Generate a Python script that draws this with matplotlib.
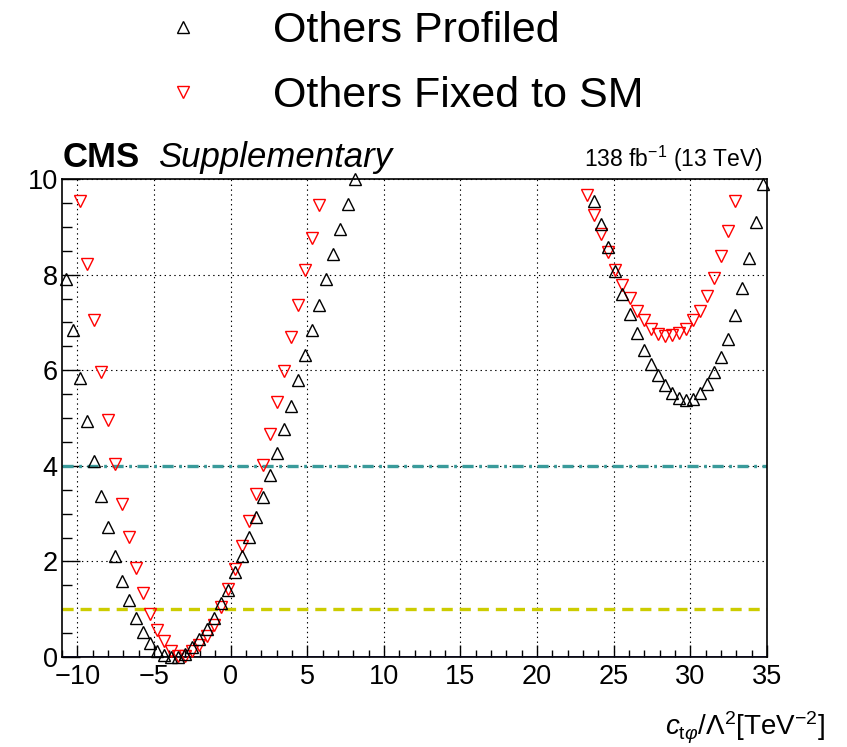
import matplotlib
matplotlib.use("Agg")
import matplotlib.pyplot as plt
from matplotlib.ticker import MultipleLocator

plt.rcParams["font.family"] = ["Liberation Sans", "DejaVu Sans"]
plt.rcParams["mathtext.fontset"] = "custom"
plt.rcParams["mathtext.rm"] = "Liberation Sans"
plt.rcParams["mathtext.it"] = "Liberation Sans:italic"
plt.rcParams["mathtext.bf"] = "Liberation Sans:bold"
plt.rcParams["lines.scale_dashes"] = False

# Likelihood scan in c_tphi: -2 Delta lnL, other Wilson coefficients profiled
profiled_x = [-10.77, -10.31, -9.85, -9.39, -8.93, -8.47, -8.01, -7.55, -7.09, -6.63,
              -6.17, -5.71, -5.25, -4.79, -4.33, -3.87, -3.41, -2.95, -2.49, -2.03,
              -1.57, -1.11, -0.65, -0.19, 0.27, 0.73, 1.19, 1.65, 2.11, 2.57,
              3.03, 3.49, 3.95, 4.41, 4.87, 5.33, 5.79, 6.25, 6.71, 7.17,
              7.63, 8.09,
              23.73, 24.19, 24.65, 25.11, 25.57, 26.03, 26.49, 26.95, 27.41, 27.87,
              28.33, 28.79, 29.25, 29.71, 30.17, 30.63, 31.09, 31.55, 32.01, 32.47,
              32.93, 33.39, 33.85, 34.31, 34.77]
profiled_y = [7.91, 6.84, 5.84, 4.93, 4.10, 3.37, 2.72, 2.11, 1.60, 1.19,
              0.81, 0.53, 0.29, 0.12, 0.04, 0.00, 0.01, 0.07, 0.20, 0.38,
              0.58, 0.82, 1.12, 1.41, 1.77, 2.12, 2.51, 2.92, 3.35, 3.80,
              4.27, 4.77, 5.26, 5.80, 6.32, 6.84, 7.37, 7.91, 8.43, 8.95,
              9.47, 9.99,
              9.55, 9.05, 8.57, 8.08, 7.59, 7.17, 6.77, 6.43, 6.12, 5.89,
              5.68, 5.52, 5.41, 5.38, 5.40, 5.52, 5.71, 5.96, 6.27, 6.65,
              7.16, 7.72, 8.34, 9.09, 9.89]

# Same scan with the other Wilson coefficients fixed to their SM values
fixed_x = [-9.85, -9.39, -8.93, -8.47, -8.01, -7.55, -7.09, -6.63, -6.17, -5.71,
           -5.25, -4.79, -4.33, -3.87, -3.41, -2.95, -2.49, -2.03, -1.57, -1.11,
           -0.65, -0.19, 0.27, 0.73, 1.19, 1.65, 2.11, 2.57, 3.03, 3.49,
           3.95, 4.41, 4.87, 5.33, 5.79,
           23.27, 23.73, 24.19, 24.65, 25.11, 25.57, 26.03, 26.49, 26.95, 27.41,
           27.87, 28.33, 28.79, 29.25, 29.71, 30.17, 30.63, 31.09, 31.55, 32.01,
           32.47, 32.93]
fixed_y = [9.53, 8.23, 7.04, 5.96, 4.96, 4.04, 3.21, 2.51, 1.87, 1.34,
           0.91, 0.56, 0.33, 0.13, 0.03, 0.03, 0.12, 0.26, 0.44, 0.67,
           1.05, 1.42, 1.84, 2.32, 2.85, 3.40, 4.01, 4.67, 5.33, 5.99,
           6.69, 7.36, 8.09, 8.77, 9.46,
           9.67, 9.25, 8.84, 8.48, 8.10, 7.79, 7.51, 7.24, 7.04, 6.86,
           6.76, 6.71, 6.74, 6.77, 6.86, 7.04, 7.24, 7.56, 7.93, 8.39,
           8.91, 9.55]

series_labels = ["Others Profiled", "Others Fixed to SM"]

# Reference levels: minimum, 68% CL and 95% CL
ref_levels = [0.0, 1.0, 4.0]

fig = plt.figure(figsize=(8.47, 7.47), dpi=100)
ax = fig.add_axes([62 / 847, 1 - 657 / 747, (767 - 62) / 847, (657 - 179) / 747])

ax.set_xlim(-11, 35)
ax.set_ylim(0, 10)

ax.axhline(ref_levels[0], color="#2d2db4", lw=1.3, zorder=2)
ax.axhline(ref_levels[1], color="#cccc00", lw=2.4, dashes=(8, 5), zorder=2)
ax.axhline(ref_levels[2], color="#3a9b9b", lw=2.4, dashes=(8, 4, 2, 4), zorder=2)

h1, = ax.plot(profiled_x, profiled_y, ls="none", marker="^", ms=9,
              mfc="none", mec="black", mew=1.0, clip_on=False, zorder=4)
h2, = ax.plot(fixed_x, fixed_y, ls="none", marker="v", ms=9,
              mfc="none", mec="#ff0000", mew=1.0, clip_on=False, zorder=3)

ax.xaxis.set_major_locator(MultipleLocator(5))
ax.xaxis.set_minor_locator(MultipleLocator(1))
ax.yaxis.set_major_locator(MultipleLocator(2))
ax.yaxis.set_minor_locator(MultipleLocator(0.5))
ax.grid(True, which="major", color="black", ls=(0, (1, 2.5)), lw=0.8)
ax.set_axisbelow(True)

ax.tick_params(which="both", direction="in", top=False, right=False,
               labelsize=19.5, color="black")
ax.tick_params(axis="x", which="major", length=9, width=1.0, pad=5)
ax.tick_params(axis="x", which="minor", length=5, width=1.0)
ax.tick_params(axis="y", which="major", length=13, width=1.0, pad=3)
ax.tick_params(axis="y", which="minor", length=7, width=1.0)
for s in ax.spines.values():
    s.set_linewidth(1.2)

fig.text(63 / 847, 1 - 167 / 747, "CMS", fontsize=25, fontweight="bold",
         ha="left", va="baseline")
fig.text(158 / 847, 1 - 167 / 747, "Supplementary", fontsize=25,
         fontstyle="italic", ha="left", va="baseline")
fig.text(763 / 847, 1 - 167 / 747, r"138 fb$^{-1}$ (13 TeV)", fontsize=16.5,
         ha="right", va="baseline")
fig.text(825 / 847, 1 - 735 / 747,
         r"$c_{\mathrm{t}\varphi}/\Lambda^{2}$[TeV$^{-2}$]",
         fontsize=20, ha="right", va="baseline")

fig.legend([h1, h2], series_labels, loc="upper left",
           bbox_to_anchor=(161.5 / 847, 1 - 11 / 747), frameon=False,
           fontsize=31, handlelength=1.0, handletextpad=1.6,
           borderpad=0, borderaxespad=0, labelspacing=0.58, markerscale=1.0)

fig.savefig("out.png", dpi=100)
